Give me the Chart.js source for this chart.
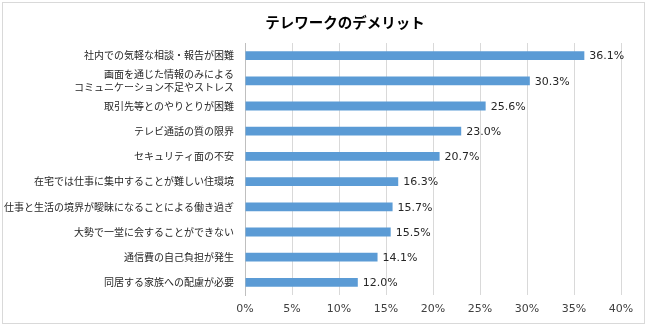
<!DOCTYPE html>
<html lang="ja">
<head>
<meta charset="utf-8">
<script src="https://cdn.jsdelivr.net/npm/chart.js@4"></script>
<style>
  html, body { margin: 0; padding: 0; background: #fff; }
  #wrap { position: relative; width: 650px; height: 327px; }
  #frame { position: absolute; left: 2px; top: 2px; width: 641px; height: 320px; border: 1px solid #d9d9d9; }
  canvas { position: absolute; left: 0; top: 0; }
</style>
</head>
<body>
<div id="wrap">
  <div id="frame"></div>
  <canvas id="demeritChart" width="650" height="327"></canvas>
</div>
<script>
/* ── テレワークのデメリット ── */
const chartTitle = "テレワークのデメリット";
const categories = [
    "社内での気軽な相談・報告が困難",
    ["画面を通じた情報のみによる", "コミュニケーション不足やストレス"],
    "取引先等とのやりとりが困難",
    "テレビ通話の質の限界",
    "セキュリティ面の不安",
    "在宅では仕事に集中することが難しい住環境",
    "仕事と生活の境界が曖昧になることによる働き過ぎ",
    "大勢で一堂に会することができない",
    "通信費の自己負担が発生",
    "同居する家族への配慮が必要",
];
const values = [36.1, 30.3, 25.6, 23.0, 20.7, 16.3, 15.7, 15.5, 14.1, 12.0];
const tickValues = [0, 5, 10, 15, 20, 25, 30, 35, 40];

const jpFont = "'Noto Sans CJK JP', 'Noto Sans', sans-serif";
const numFont = "'DejaVu Sans', Verdana, sans-serif";

// 棒の右に値ラベル
const valueLabels = {
    id: "valueLabels",
    afterDatasetsDraw(chart) {
        const ctx = chart.ctx;
        const meta = chart.getDatasetMeta(0);
        ctx.save();
        ctx.font = "11px " + numFont;
        ctx.fillStyle = "#262626";
        ctx.textAlign = "left";
        ctx.textBaseline = "middle";
        meta.data.forEach((bar, i) => {
            ctx.fillText(values[i].toFixed(1) + "%", bar.x + 5, bar.y + 1);
        });
        ctx.restore();
    },
};

// タイトル (Excel 側で手動配置されている位置に合わせる)
const titleText = {
    id: "titleText",
    afterDraw(chart) {
        const ctx = chart.ctx;
        ctx.save();
        ctx.font = "bold 14.5px " + jpFont;
        ctx.fillStyle = "#000";
        ctx.textAlign = "center";
        ctx.textBaseline = "middle";
        ctx.fillText(chartTitle, 345, 22);
        ctx.restore();
    },
};

const ctx = document.getElementById("demeritChart").getContext("2d");
new Chart(ctx, {
    type: "bar",
    data: {
        labels: categories,
        datasets: [
            {
                data: values,
                backgroundColor: "#5b9bd5",
                borderWidth: 0,
                barPercentage: 0.35,
                categoryPercentage: 1,
            },
        ],
    },
    options: {
        indexAxis: "y",
        responsive: false,
        animation: false,
        layout: { padding: { top: 43, right: 29, left: 0, bottom: 0 } },
        plugins: {
            legend: { display: false },
            title: { display: false },
            tooltip: { enabled: false },
        },
        scales: {
            x: {
                min: 0,
                max: 40,
                afterBuildTicks: (scale) => {
                    scale.ticks = tickValues.map((v) => ({ value: v }));
                },
                afterFit: (scale) => {
                    scale.height = 32;
                },
                grid: { color: "#d9d9d9", drawTicks: false },
                border: { display: false },
                ticks: {
                    color: "#404040",
                    padding: 8,
                    autoSkip: false,
                    maxRotation: 0,
                    font: { family: numFont, size: 11 },
                    callback: (v) => v + "%",
                },
            },
            y: {
                afterFit: (scale) => {
                    scale.width = 245;
                },
                grid: { display: false, drawTicks: false },
                border: { display: true, color: "#bfbfbf" },
                ticks: {
                    color: "#262626",
                    padding: 11,
                    autoSkip: false,
                    font: { family: jpFont, size: 10, lineHeight: 1.25 },
                },
            },
        },
    },
    plugins: [valueLabels, titleText],
});
</script>
</body>
</html>
